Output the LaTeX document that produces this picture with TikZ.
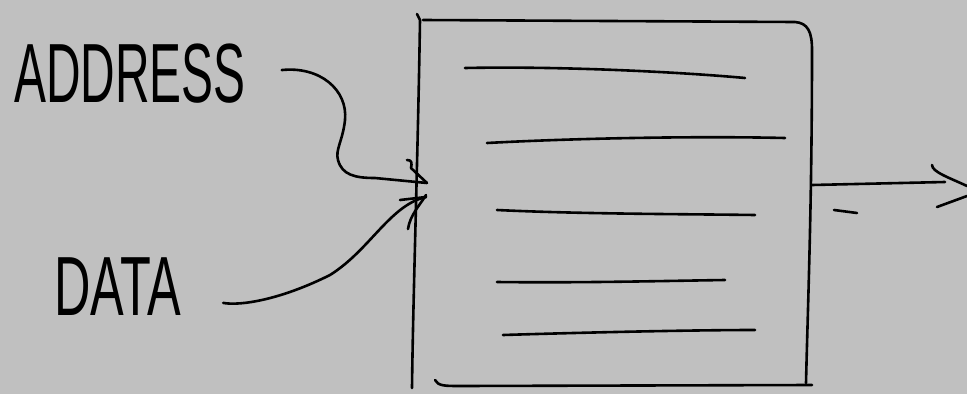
\documentclass[tikz,border=0pt]{standalone}
\usepackage{fontspec}
\setmainfont{Liberation Sans}
\usetikzlibrary{arrows.meta}
\definecolor{bg}{HTML}{C0C0C0}
\tikzset{
  pen/.style={line width=2.6pt, line cap=round, line join=round, black},
  label/.style={font=\fontsize{84}{84}\selectfont, inner sep=0pt, anchor=south west, transform shape},
}
\begin{document}
\begin{tikzpicture}[x=1pt,y=-1pt]
\fill[bg] (0,0) rectangle (967,394);
\useasboundingbox (0,0) rectangle (967,394);
% labels
\node[label, xscale=0.57] (addr) at (14,104) {ADDRESS};
\node[label, xscale=0.6] (data) at (54,316) {DATA};
% memory box outline
\coordinate (mem) at (427,183);
\coordinate (out) at (812,185);
\draw[pen] (417,14) -- (420,20) .. controls (418,150) and (413,300) .. (412,388);
\draw[pen] (423,20) -- (795,22) .. controls (808,23) and (812,32) .. (812,50)
  .. controls (812,200) and (808,300) .. (806,383);
\draw[pen] (435,380) .. controls (438,386) and (445,386) .. (460,386) -- (812,385);
% rows
\draw[pen] (465,68) .. controls (560,66) and (680,72) .. (745,78);
\draw[pen] (487,143) .. controls (580,138) and (700,136) .. (785,138);
\draw[pen] (497,210) .. controls (580,214) and (680,214) .. (755,215);
\draw[pen] (497,282) .. controls (580,283) and (660,281) .. (725,280);
\draw[pen] (503,335) .. controls (600,332) and (700,330) .. (755,330);
% address connector
\draw[pen] ([xshift=36pt,yshift=4pt]addr.east) .. controls (320,66) and (348,90) .. (345,120)
  .. controls (343,140) and (335,150) .. (338,160)
  .. controls (342,175) and (355,178) .. (375,178) -- (mem);
% data connector
\draw[pen] ([xshift=42pt,yshift=-16pt]data.east) .. controls (240,306) and (280,300) .. (330,275)
  .. controls (370,250) and (390,205) .. (426,197);
% arrow head at memory
\draw[pen] (407,160) .. controls (412,160) and (412,163) .. (411,168) -- (mem);
\draw[pen] (408,229) .. controls (410,215) and (420,205) .. (426,195);
\draw[pen] (400,200) -- (426,197);
% output
\draw[pen] (out) -- (945,182);
\draw[pen] (932,165) .. controls (932,172) and (950,178) .. (967,186);
\draw[pen] (937,207) -- (967,196);
\draw[pen] (834,210) -- (857,213);
\end{tikzpicture}
\end{document}
